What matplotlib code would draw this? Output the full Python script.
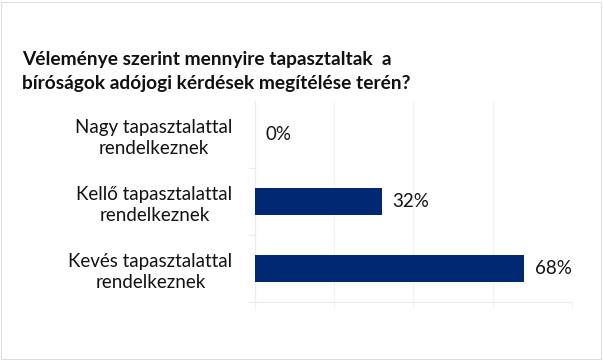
import matplotlib.pyplot as plt
from matplotlib.patches import Rectangle

plt.rcParams['font.family'] = ['Lato', 'DejaVu Sans']

# data
categories = ["Nagy tapasztalattal\nrendelkeznek",
              "Kellő tapasztalattal\nrendelkeznek",
              "Kevés tapasztalattal\nrendelkeznek"]
values = [0, 32, 68]
title = "Véleménye szerint mennyire tapasztaltak  a\nbíróságok adójogi kérdések megítélése terén?"

bar_color = "#002873"
grid_color = "#F2F2F2"

fig = plt.figure(figsize=(6.03, 3.6), dpi=100)
ax = fig.add_axes([0.4224, 0.1611, 0.5262, 0.5583])

pos = list(range(len(categories)))
ax.barh(pos, values, height=0.39, color=bar_color, zorder=3)
ax.set_ylim(len(categories) - 0.5, -0.5)
ax.set_xlim(0, 80)

# value labels
for p, v in zip(pos, values):
    ax.text(v + 2.7, p, f"{v}%", va="center", ha="left", fontsize=13.5, color="#111111")

ax.set_yticks(pos)
ax.set_yticklabels(categories, fontsize=13.5, color="#111111", linespacing=1.3)
for t in ax.get_yticklabels():
    t.set_multialignment("center")
ax.tick_params(axis="y", which="major", length=0, pad=16)
ax.set_yticks([0.5, 1.5, 2.5], minor=True)
ax.tick_params(axis="y", which="minor", length=5, width=0.8, color="#EBEBEB")

ax.set_xticks([0, 20, 40, 60, 80])
ax.set_xticklabels([])
ax.tick_params(axis="x", length=5, width=0.8, color=grid_color)
ax.grid(axis="x", color=grid_color, linewidth=0.8, zorder=0)

for s in ["top", "right"]:
    ax.spines[s].set_visible(False)
ax.spines["left"].set_color("#EBEBEB")
ax.spines["bottom"].set_color("#EBEBEB")
ax.spines["left"].set_linewidth(0.8)
ax.spines["bottom"].set_linewidth(0.8)

fig.text(0.037, 0.80, title, fontsize=13.8, fontweight="bold", ha="left", va="center",
         linespacing=1.5, color="#111111")

# chart border
fig.patches.append(Rectangle((0.002, 0.004), 0.995, 0.99, transform=fig.transFigure,
                             fill=False, edgecolor="#DDDDDD", linewidth=0.8))

fig.savefig("out.png", dpi=100)
